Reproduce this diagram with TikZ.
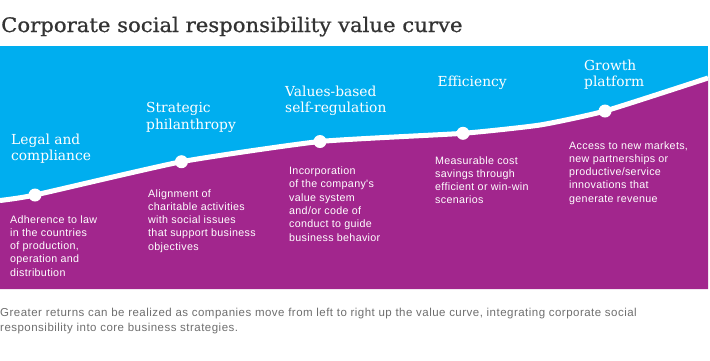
\documentclass[tikz,border=0pt]{standalone}
\usepackage{fontspec}
\setmainfont{Liberation Sans}
\newfontfamily\slab{DejaVu Serif}
\newfontfamily\slabtitle[FakeStretch=1.06,FakeBold=0.8]{DejaVu Serif}
\newfontfamily\descfont[LetterSpace=3]{Liberation Sans}
\newfontfamily\capfont[LetterSpace=4.2]{Liberation Sans}
\definecolor{cblue}{HTML}{00AEEF}
\definecolor{cpurple}{HTML}{A2268D}
\definecolor{ctitle}{HTML}{333333}
\definecolor{cgray}{HTML}{6E6E6E}
\begin{document}
\begin{tikzpicture}[x=1pt,y=-1pt,
  head/.style={anchor=base west, inner sep=0pt, align=left, text=white,
    font=\slab\fontsize{13.8}{16.8}\selectfont},
  desc/.style={anchor=base west, inner sep=0pt, align=left, text=white,
    font=\descfont\fontsize{10.7}{13.3}\selectfont},
  dotnode/.style={circle, fill=white, minimum size=13pt, inner sep=0pt},
  curveline/.style={white, line width=5pt}]
\useasboundingbox (0,0) rectangle (710,360);
\coordinate (p0) at (0,200.5);
\coordinate (p1) at (35,195);
\coordinate (p2) at (181.5,161.7);
\coordinate (p3) at (320,141.5);
\coordinate (p4) at (463,133.3);
\coordinate (p45) at (540,125);
\coordinate (p5) at (605,111);
\coordinate (p6) at (708,78);
\begin{scope}
\clip (0,46) rectangle (708,289);
\fill[cblue] (0,46) rectangle (708,289);
\fill[cpurple] plot[smooth,tension=0.3] coordinates {(p0) (p1) (p2) (p3) (p4) (p45) (p5) (p6)} -- (708,289) -- (0,289) -- cycle;
\draw[curveline] plot[smooth,tension=0.3] coordinates {(p0) (p1) (p2) (p3) (p4) (p45) (p5) (p6)};
\end{scope}
\node[dotnode] (d1) at (p1) {};
\node[dotnode] (d2) at (p2) {};
\node[dotnode] (d3) at (p3) {};
\node[dotnode] (d4) at (p4) {};
\node[dotnode] (d5) at (p5) {};
\node[anchor=base west, inner sep=0pt, text=ctitle, font=\slabtitle\fontsize{20}{24}\selectfont] (title) at (1,32) {Corporate social responsibility value curve};
\node[head] (h1) at (11,160.8) {Legal and\\compliance};
\node[head] (h2) at (146,129.5) {Strategic\\philanthropy};
\node[head] (h3) at (285,112.8) {Values-based\\self-regulation};
\node[head] (h4) at (437.5,86) {Efficiency};
\node[head] (h5) at (584,86.8) {Growth\\platform};
\node[desc] (t1) at (10,276.2) {Adherence to law\\in the countries\\of production,\\operation and\\distribution};
\node[desc] (t2) at (148,250.2) {Alignment of\\charitable activities\\with social issues\\that support business\\objectives};
\node[desc] (t3) at (289,241) {Incorporation\\of the company's\\value system\\and/or code of\\conduct to guide\\business behavior};
\node[desc] (t4) at (435,203.9) {Measurable cost\\savings through\\efficient or win-win\\scenarios};
\node[desc] (t5) at (569,202.2) {Access to new markets,\\new partnerships or\\productive/service\\innovations that\\generate revenue};
\node[anchor=base west, inner sep=0pt, align=left, text=cgray, font=\capfont\fontsize{11.5}{14.7}\selectfont] (cap) at (0,331.2) {Greater returns can be realized as companies move from left to right up the value curve, integrating corporate social\\responsibility into core business strategies.};
\end{tikzpicture}
\end{document}
